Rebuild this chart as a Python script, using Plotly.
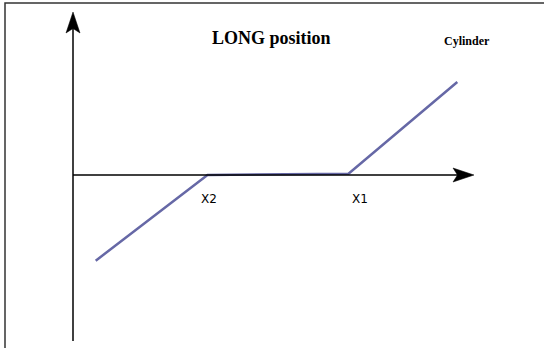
import plotly.graph_objects as go

# Ламана лінія позиції (одиниці: 1 = 10 px від початку координат)
pos_x = [2.27, 13.45, 27.55, 38.43]
pos_y = [-8.57, 0.0, 0.12, 9.3]

# Мітки точок зламу
break_labels = ["X2", "X1"]
break_x = [13.6, 28.7]

title_text = "LONG position"
legend_text = "Cylinder"

W, H = 544, 348
PX = 10.0            # пікселів на одиницю
ORIGIN = (73, 175)   # точка перетину осей на картинці

x_range = [-ORIGIN[0] / PX, (W - ORIGIN[0]) / PX]
y_range = [-(H - ORIGIN[1]) / PX, ORIGIN[1] / PX]

# кінці осей (в одиницях даних)
x_axis_end = (474 - ORIGIN[0]) / PX
y_axis_top = (ORIGIN[1] - 12) / PX
y_axis_bottom = -(341 - ORIGIN[1]) / PX


def arrow_path(tx, ty, direction):
    """Стрілка з вирізом, довжина 21px, напівширина 7px."""
    L, hw, notch = 2.1, 0.7, 1.65
    if direction == "right":
        pts = [(tx, ty), (tx - L, ty + hw), (tx - notch, ty), (tx - L, ty - hw)]
    else:
        pts = [(tx, ty), (tx - hw, ty - L), (tx, ty - notch), (tx + hw, ty - L)]
    return "M" + " L".join(f"{x},{y}" for x, y in pts) + " Z"


fig = go.Figure()

fig.add_trace(go.Scatter(
    x=pos_x, y=pos_y, mode="lines",
    line=dict(color="#6668A6", width=2.5),
    hoverinfo="skip", showlegend=False,
))

shapes = [
    # рамка
    dict(type="rect", xref="paper", yref="paper",
         x0=5 / W, y0=1 - 3 / H, x1=1.05, y1=-0.05,
         line=dict(color="#333333", width=1.5)),
    # осі
    dict(type="line", xref="x", yref="y", x0=0, y0=y_axis_bottom, x1=0, y1=y_axis_top - 1.0,
         line=dict(color="black", width=1.5)),
    dict(type="line", xref="x", yref="y", x0=0, y0=0, x1=x_axis_end - 1.0, y1=0,
         line=dict(color="black", width=1.5)),
    dict(type="path", xref="x", yref="y", path=arrow_path(0, y_axis_top, "up"),
         fillcolor="black", line=dict(color="black", width=0.5)),
    dict(type="path", xref="x", yref="y", path=arrow_path(x_axis_end, 0, "right"),
         fillcolor="black", line=dict(color="black", width=0.5)),
]

annotations = [
    dict(text=f"<b>{title_text}</b>", x=271.5 / W, y=1 - 38 / H, xref="paper", yref="paper",
         xanchor="center", yanchor="middle", showarrow=False,
         font=dict(family="Liberation Serif", size=18, color="black")),
    dict(text=f"<b>{legend_text}</b>", x=467 / W, y=1 - 41 / H, xref="paper", yref="paper",
         xanchor="center", yanchor="middle", showarrow=False,
         font=dict(family="Liberation Serif", size=12, color="black")),
]
for lab, lx in zip(break_labels, break_x):
    annotations.append(dict(text=lab, x=lx, y=-2.35, xref="x", yref="y", showarrow=False,
                            xanchor="center", yanchor="middle",
                            font=dict(family="DejaVu Sans", size=12, color="black")))

fig.update_layout(
    width=W, height=H,
    margin=dict(l=0, r=0, t=0, b=0),
    paper_bgcolor="white", plot_bgcolor="white",
    xaxis=dict(range=x_range, visible=False, fixedrange=True),
    yaxis=dict(range=y_range, visible=False, fixedrange=True),
    shapes=shapes, annotations=annotations,
)

# прибираємо стандартний відступ body, щоб малюнок починався з (0, 0)
fig.write_html("out.html", config={"displayModeBar": False},
               post_script="document.body.style.margin = '0px';")
